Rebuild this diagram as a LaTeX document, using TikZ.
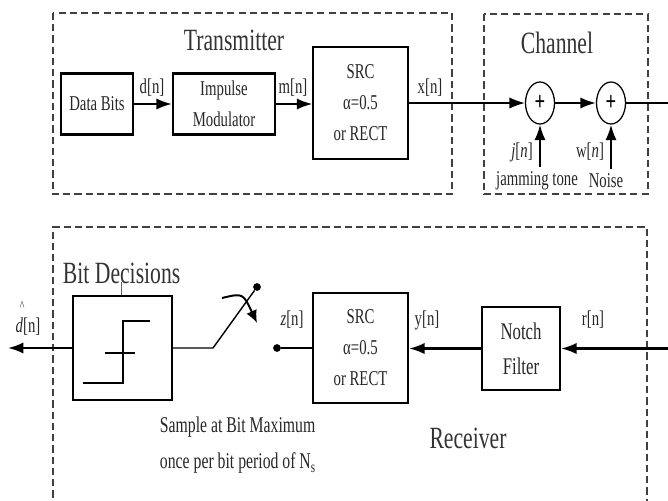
\documentclass[tikz,border=0pt]{standalone}
\usepackage{fontspec}
\setmainfont[FakeStretch=0.7]{Liberation Serif}
\usetikzlibrary{arrows.meta,shapes.geometric}
\begin{document}
\begin{tikzpicture}[x=0.025cm,y=-0.025cm,
    bloque/.style={draw,line width=1.6pt,align=center,inner sep=1pt},
    sumador/.style={draw,ellipse,line width=0.9pt,minimum width=0.725cm,minimum height=1.05cm,inner sep=0pt,font=\bfseries\fontsize{19}{19}\selectfont},
    senal/.style={line width=1.5pt,-{Latex[length=11pt,width=8pt]}},
    marco/.style={draw=black!75,line width=0.8pt,dash pattern=on 5pt off 3pt},
    punto/.style={circle,fill,inner sep=0pt,minimum size=5.5pt},
    etiq/.style={font=\fontsize{15}{22}\selectfont,text=black!85},
    titulo/.style={font=\fontsize{22}{24}\selectfont,text=black!80}]
    \useasboundingbox (0,0) rectangle (668,500);

    % Transmisor
    \draw[marco] (53,13) rectangle (452,194);
    \node[titulo] (tx) at (234,40) {Transmitter};
    \node[bloque,etiq,minimum width=1.8cm,minimum height=1.525cm] (bits) at (97,104) {Data Bits};
    \node[bloque,etiq,minimum width=2.55cm,minimum height=1.525cm] (imp) at (224,104) {Impulse\\Modulator};
    \node[bloque,etiq,line width=0.9pt,minimum width=2.375cm,minimum height=2.8cm] (src1) at (360.5,103) {SRC\\α=0.5\\or RECT};
    \draw[senal] (bits.east) -- (imp.west);
    \draw[senal] (imp.east) -- (imp.east -| src1.west);
    \node[etiq] (dn) at (152,88) {d[n]};
    \node[etiq] (mn) at (293,88) {m[n]};
    \node[etiq] (xn) at (430,88) {x[n]};

    % Canal
    \draw[marco] (484,14) rectangle (648,194);
    \node[titulo] (ch) at (557,43) {Channel};
    \node[sumador] (sum1) at (540,103) {+};
    \node[sumador] (sum2) at (611,103) {+};
    \draw[senal,line width=1pt] (src1.east) -- (sum1.west);
    \draw[senal] (sum1.east) -- (sum2.west);
    \node[etiq] (jam) at (537,181) {jamming tone};
    \node[etiq] (ruido) at (606,181) {Noise};
    \draw[senal] (jam.north -| sum1.south) -- (sum1.south);
    \draw[senal] (ruido.north -| sum2.south) -- (sum2.south);
    \node[etiq] (jn) at (522,152) {\textit{j}[\textit{n}]};
    \node[etiq] (wn) at (590,152) {w[\textit{n}]};

    % Receptor
    \draw[marco] (53,520) -- (53,227) -- (647,227) -- (647,520);
    \coordinate (der1) at (672,103);
    \node[bloque,etiq,minimum width=1.95cm,minimum height=2.075cm,font=\fontsize{17}{25}\selectfont] (notch) at (521,348.5) {Notch\\Filter};
    \draw[senal] (sum2.east) -- (der1) |- (notch.east);
    \node[bloque,etiq,minimum width=2.375cm,minimum height=2.75cm] (src2) at (360.5,348) {SRC\\α=0.5\\or RECT};
    \draw[senal] (notch.west) -- (notch.west -| src2.east);
    \node[etiq] (rn) at (593,320) {r[n]};
    \node[etiq] (yn) at (427,320) {y[n]};
    \node[etiq] (zn) at (292,320) {\textit{z}[n]};
    \node[titulo] (rx) at (468,438) {Receiver};

    % Muestreo
    \node[punto] (c1) at (277,348) {};
    \node[punto] (c2) at (257,287) {};
    \coordinate (giro) at (213,348);
    \draw[line width=1.5pt] (src2.west |- c1) -- (c1);
    \node[bloque,minimum width=2.475cm,minimum height=2.6cm] (dec) at (122.5,348) {};
    \draw[line width=1pt] (dec.east |- giro) -- (giro) -- (c2);
    \coordinate (a1) at (222,298);
    \coordinate (a2) at (257,323);
    \draw[line width=1.4pt,-{Latex[length=9pt,width=8pt]}] (a1) .. controls (243,293) .. (a2);
    \node[etiq,font=\fontsize{16}{22}\selectfont,anchor=west] (s1) at (155,427) {Sample at Bit Maximum};
    \node[etiq,font=\fontsize{16}{22}\selectfont,anchor=west] (s2) at (155,463) {once per bit period of N\textsubscript{s}};

    % Decisor
    \node[titulo,anchor=west] (bd) at (58,273) {Bit Decisions};
    \draw[black!60] (121,282) -- (dec.north -| 121,0);
    \draw[line width=1pt] (83,383) -- (123,383) -- (123,321) -- (150,321);
    \draw[line width=1pt] (105,353) -- (135,353);
    \coordinate (sal) at (8,348);
    \draw[senal] (dec.west) -- (sal);
    \node[etiq] (dhat) at (28,318) {\rlap{\raisebox{1.05em}{\hspace{0.2em}\fontsize{10}{10}\selectfont\textasciicircum}}\textit{d}[n]};
\end{tikzpicture}
\end{document}
